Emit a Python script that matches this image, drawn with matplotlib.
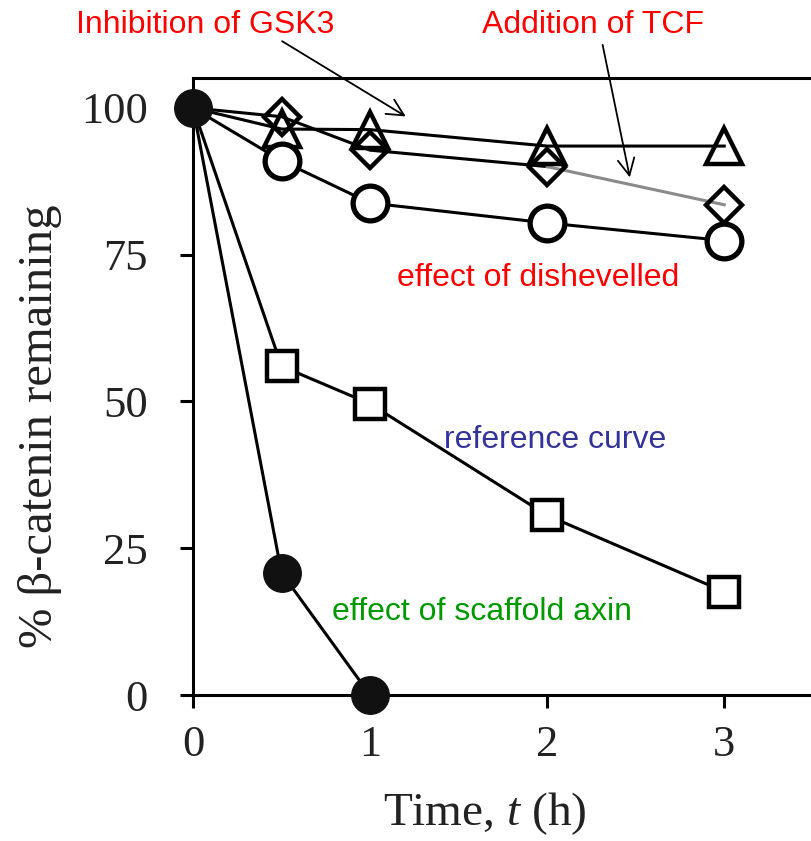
import matplotlib.pyplot as plt

# data (time in h, % beta-catenin remaining)
t_axin = [0, 0.5, 1]
y_axin = [100, 20.8, 0]

t_ref = [0, 0.5, 1, 2, 3]
y_ref = [100, 56.0, 49.6, 30.6, 17.6]

t_dsh = [0, 0.5, 1, 2, 3]
y_dsh = [100, 91.0, 83.8, 80.4, 77.4]

t_tcf = [0, 0.5, 1, 2, 3]
y_tcf = [100, 98.5, 92.8, 90.0, 83.5]

t_gsk = [0, 0.5, 1, 2, 3]
y_gsk = [100, 96.4, 96.3, 93.5, 93.5]

xticks = [0, 1, 2, 3]
yticks = [0, 25, 50, 75, 100]

serif = ['Liberation Serif', 'DejaVu Serif']
sans = ['Liberation Sans', 'DejaVu Sans']

plt.rcParams['mathtext.fontset'] = 'custom'
plt.rcParams['mathtext.rm'] = 'Liberation Serif'
plt.rcParams['mathtext.it'] = 'Liberation Serif:italic'

fig = plt.figure(figsize=(8.11, 8.41), dpi=100)
ax = fig.add_axes([0.238, 0.1736, 0.762, 0.7337])

lw = 2.2
mew = 3.2
# lines first
ax.plot(t_gsk, y_gsk, color='black', lw=lw, zorder=2)
ax.plot(t_tcf[:4], y_tcf[:4], color='black', lw=lw, zorder=2)
ax.plot(t_tcf[3:], y_tcf[3:], color='#8a8a8a', lw=lw, zorder=2)
ax.plot(t_dsh, y_dsh, color='black', lw=lw, zorder=2)
ax.plot(t_ref, y_ref, color='black', lw=lw, zorder=2)
ax.plot(t_axin, y_axin, color='black', lw=lw, zorder=2)

# markers
ax.plot(t_gsk[1:], y_gsk[1:], ls='none', marker='^', ms=26, mfc='none',
        mec='black', mew=mew, zorder=3)
ax.plot(t_tcf[1:], y_tcf[1:], ls='none', marker='D', ms=18, mfc='none',
        mec='black', mew=mew, zorder=3)
ax.plot(t_dsh[1:], y_dsh[1:], ls='none', marker='o', ms=25, mfc='white',
        mec='black', mew=mew + 0.6, zorder=3)
ax.plot(t_ref[1:], y_ref[1:], ls='none', marker='s', ms=22, mfc='white',
        mec='black', mew=mew, zorder=3)
ax.plot(t_axin, y_axin, ls='none', marker='o', ms=27, mfc='#111111',
        mec='#111111', zorder=4, clip_on=False)

ax.set_xlim(0, 3.49)
ax.set_ylim(0, 105.1)
ax.set_xticks(xticks)
ax.set_yticks(yticks)
ax.spines['right'].set_visible(False)
for s in ['left', 'top', 'bottom']:
    ax.spines[s].set_linewidth(2.2)
ax.tick_params(axis='both', direction='out', length=9.5, width=2.2,
               labelsize=32)
ax.tick_params(axis='y', pad=23)
ax.tick_params(axis='x', pad=12)
for lab in ax.get_xticklabels() + ax.get_yticklabels():
    lab.set_family(serif)
    lab.set_color('#222222')

ax.set_xlabel('Time, $\\mathit{t}$ (h)', family=serif, fontsize=34,
              color='#222222')
ax.xaxis.set_label_coords(0.472, -0.21)
ax.xaxis.label.set_va('baseline')
ax.set_ylabel('% \u03b2-catenin remaining', family=serif, fontsize=35,
              color='#222222')
ax.yaxis.set_label_coords(-0.212, 0.436)

# annotations
fig.text(0.2534, 0.9608, 'Inhibition of GSK3', color='red', family=sans,
         fontsize=23, ha='center', va='baseline')
fig.text(0.731, 0.9608, 'Addition of TCF', color='red', family=sans,
         fontsize=23, ha='center', va='baseline')
ax.annotate('', xy=(1.215, 98.3), xytext=(0.49, 111.6),
            arrowprops=dict(arrowstyle='->', color='black', lw=1.3,
                            mutation_scale=30), annotation_clip=False)
ax.annotate('', xy=(2.47, 87.7), xytext=(2.31, 111.2),
            arrowprops=dict(arrowstyle='->', color='black', lw=1.3,
                            mutation_scale=30), annotation_clip=False)

ax.text(1.95, 71.0, 'effect of dishevelled', color='red', family=sans,
        fontsize=23, ha='center', va='center')
ax.text(2.045, 43.4, 'reference curve', color='#333399', family=sans,
        fontsize=23, ha='center', va='center')
ax.text(1.633, 14.1, 'effect of scaffold axin', color='#009900', family=sans,
        fontsize=23, ha='center', va='center')

fig.savefig('out.png', dpi=100)
